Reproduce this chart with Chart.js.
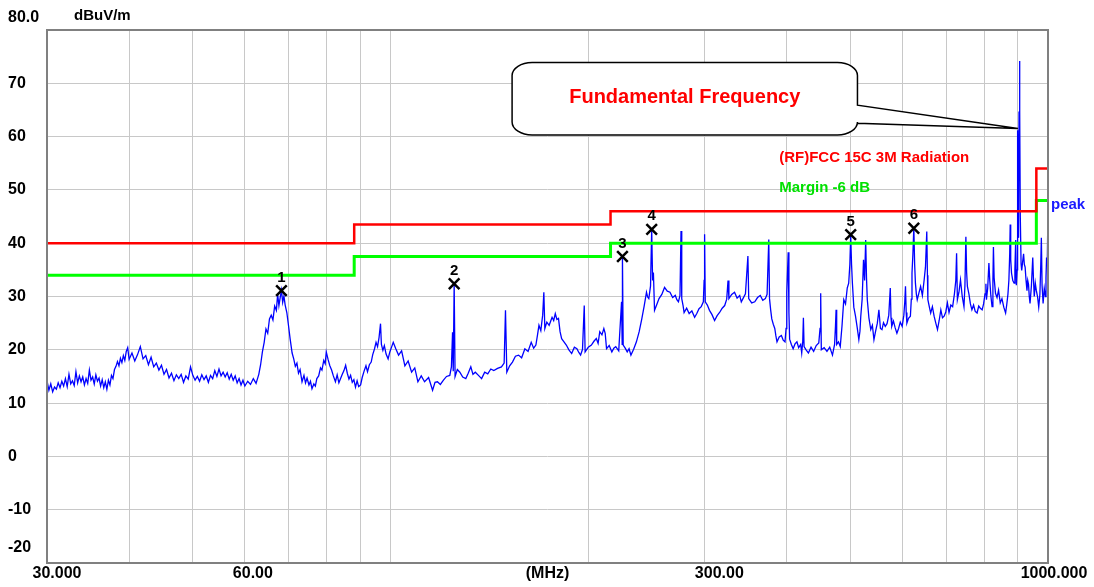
<!DOCTYPE html>
<html>
<head>
<meta charset="utf-8">
<script src="https://cdn.jsdelivr.net/npm/chart.js@4.4.1/dist/chart.umd.min.js"></script>
<style>
  html, body { margin: 0; padding: 0; background: #fff; }
  #wrap { width: 1094px; height: 587px; }
</style>
</head>
<body>
<div id="wrap"><canvas id="chart" width="1094" height="587"></canvas></div>
<script>
// measured trace: [MHz, dBuV/m]
const trace = [
  [30.0,14.2],[30.2,12.4],[30.4,13.6],[30.6,12.1],[30.8,13.0],[31.0,12.6],[31.2,13.8],[31.4,12.9],[31.6,14.1],[31.8,13.2],
  [32.0,14.6],[32.2,13.1],[32.4,15.4],[32.6,13.6],[32.8,14.2],[33.0,13.3],[33.2,15.9],[33.4,13.8],[33.6,15.1],[33.8,14.0],
  [34.0,14.9],[34.2,13.4],[34.4,14.6],[34.6,13.7],[34.8,16.2],[35.0,14.3],[35.2,14.9],[35.4,13.6],[35.6,15.3],[35.8,14.1],
  [36.0,14.7],[36.2,13.2],[36.4,14.4],[36.6,12.9],[36.8,14.0],[37.0,12.6],[37.2,14.3],[37.4,13.4],[37.6,15.2],[37.8,14.6],
  [38.0,16.3],[38.2,16.9],[38.4,17.8],[38.6,17.0],[38.8,18.4],[39.0,17.6],[39.2,18.9],[39.4,18.0],[39.6,19.7],[39.8,20.4],
  [40.0,18.2],[40.4,19.4],[40.8,17.9],[41.2,19.1],[41.6,20.6],[42.0,18.3],[42.4,18.9],[42.8,17.2],[43.2,18.6],[43.6,16.8],
  [44.0,17.5],[44.4,16.2],[44.8,17.1],[45.2,15.4],[45.6,16.3],[46.0,14.7],[46.4,15.6],[46.8,14.2],[47.2,15.3],[47.6,14.6],
  [48.0,15.4],[48.4,13.9],[48.8,15.1],[49.2,14.5],[49.6,16.8],[50.0,15.2],[50.4,14.3],[50.8,15.0],[51.2,14.1],[51.6,15.3],
  [52.0,14.4],[52.4,15.1],[52.8,13.9],[53.2,15.2],[53.6,14.6],[54.0,16.1],[54.4,15.0],[54.8,16.4],[55.2,15.1],[55.6,15.8],
  [56.0,14.9],[56.4,15.7],[56.8,14.5],[57.2,15.4],[57.6,14.3],[58.0,15.1],[58.4,13.8],[58.8,14.6],[59.2,13.4],[59.6,14.3],
  [60.0,13.2],[60.6,14.1],[61.2,13.5],[61.8,14.6],[62.4,13.7],[63.0,15.4],[63.4,17.2],[63.8,19.6],[64.2,21.4],[64.6,23.9],
  [65.0,23.1],[65.4,25.8],[65.8,26.5],[66.2,25.6],[66.6,28.2],[67.0,27.4],[67.3,30.4],[67.6,28.3],[67.9,29.8],[68.2,31.2],
  [68.5,28.9],[68.8,30.1],[69.1,28.4],[69.5,27.0],[69.9,24.6],[70.3,22.1],[70.8,19.4],[71.2,18.3],[71.6,16.9],[72.0,17.5],
  [72.4,15.6],[72.8,16.3],[73.3,14.0],[73.8,15.2],[74.2,13.8],[74.6,14.7],[75.1,13.4],[75.5,14.1],[75.9,12.7],[76.4,13.6],
  [76.8,13.2],[77.2,14.6],[77.7,15.1],[78.2,16.6],[78.6,16.2],[79.1,18.0],[79.5,17.4],[79.8,19.6],[80.3,18.2],[80.8,17.0],
  [81.3,16.2],[81.8,15.1],[82.4,14.0],[82.9,15.3],[83.4,13.8],[83.9,14.6],[84.4,15.4],[84.9,16.1],[85.4,17.1],[85.9,15.6],
  [86.4,14.5],[86.9,15.2],[87.4,13.9],[87.9,14.4],[88.4,13.0],[88.9,14.2],[89.4,13.1],[90.0,13.4],[90.5,14.8],[91.1,16.0],
  [91.7,17.0],[92.2,15.9],[92.8,17.2],[93.4,17.7],[93.9,19.1],[94.5,20.2],[95.0,21.4],[95.5,20.6],[96.0,22.3],[96.5,24.9],
  [96.8,21.0],[97.3,19.9],[97.8,20.8],[98.4,19.2],[99.1,18.3],[99.7,19.6],[100.3,20.5],[100.9,21.4],
  [101.8,20.2],[102.8,19.0],[103.9,19.8],[105.1,17.0],[106.3,17.9],[107.6,15.8],[108.8,16.6],[110.0,14.0],[111.3,15.1],[112.6,14.0],
  [114.2,14.8],[115.8,12.4],[116.8,13.9],[117.8,14.0],[119.0,13.5],[120.3,14.3],[121.6,15.0],[123.0,15.2],[123.7,16.8],[124.2,23.3],
  [124.5,16.0],[124.9,32.5],[125.3,15.0],[126.3,16.3],[127.4,15.8],[128.7,14.9],[130.1,14.6],[131.2,15.6],[132.4,16.8],[133.4,15.4],
  [134.5,15.8],[136.0,15.2],[137.5,14.6],[139.0,15.8],[140.5,15.5],[142.0,16.4],[143.5,16.1],[145.4,16.5],[147.4,16.8],[148.8,17.5],
  [149.5,27.4],[150.2,15.8],[151.7,17.0],[153.2,17.7],[154.8,18.8],[156.5,19.0],[158.2,18.5],[160.0,20.2],[161.8,19.7],[163.6,21.4],
  [165.0,20.3],[166.3,20.9],[167.3,22.9],[168.1,24.6],[169.2,23.6],[170.3,26.5],[171.0,30.8],[171.6,24.0],[172.8,25.2],[174.2,24.6],
  [176.0,26.1],[177.0,25.5],[178.0,26.8],[179.0,25.7],[180.0,25.9],[181.0,23.4],[182.0,22.1],[183.5,21.5],[185.0,20.9],[186.7,20.0],
  [188.5,19.3],[190.3,20.5],[192.0,20.2],[193.3,19.5],[194.5,19.0],[195.8,20.1],[197.0,28.3],[197.6,19.6],[199.8,20.5],[202.0,20.9],
  [203.8,21.6],[205.5,22.1],[206.8,21.2],[208.0,23.4],[209.6,22.8],[211.0,24.0],[212.0,23.1],[213.0,20.2],[215.0,20.8],[217.0,19.6],
  [218.5,20.3],[220.0,20.6],[222.3,19.8],[224.5,29.0],[225.0,21.0],[225.2,37.6],[225.8,20.9],[227.4,20.3],[229.0,19.6],[230.5,20.2],
  [232.0,19.0],[234.2,20.1],[236.5,21.5],[238.8,23.4],[241.0,25.8],[243.0,28.2],[245.0,30.8],[246.0,29.9],[247.0,29.6],[248.5,32.0],
  [249.5,42.6],[250.3,33.0],[251.0,34.5],[252.0,27.4],[254.0,28.5],[256.0,29.6],[258.5,30.4],[261.0,31.7],[263.5,31.0],[266.0,30.8],
  [268.5,29.8],[271.0,30.2],[272.5,29.4],[274.0,29.0],[275.5,30.2],[276.5,42.3],[277.2,29.6],[278.5,28.3],[279.5,27.0],[282.0,27.8],
  [284.5,26.8],[287.2,27.3],[290.0,26.1],[292.2,26.8],[294.5,27.7],[296.8,28.1],[299.0,29.0],[299.8,33.0],[300.3,41.7],[301.0,29.0],
  [303.2,28.4],[305.5,27.4],[308.2,26.6],[311.0,25.5],[313.8,26.4],[316.5,27.0],[319.4,27.8],[322.2,28.3],[324.5,29.5],[326.0,33.0],
  [327.0,29.6],[330.2,30.4],[333.5,30.8],[336.5,29.7],[339.6,30.2],[341.5,29.0],[343.5,29.6],[346.5,30.5],[349.5,37.6],[350.5,29.6],
  [354.2,28.8],[358.0,29.0],[361.5,29.8],[365.0,30.2],[368.2,29.3],[371.5,29.6],[373.8,30.4],[376.0,40.7],[377.0,29.6],[378.5,27.5],
  [380.0,25.8],[382.0,24.8],[384.0,24.0],[385.5,22.6],[387.0,21.5],[390.0,22.4],[393.0,22.7],[395.5,21.8],[398.0,21.5],[399.5,24.0],
  [400.5,30.8],[402.5,38.3],[403.5,27.0],[404.5,22.0],[407.0,21.0],[409.5,20.2],[412.2,21.1],[415.0,21.5],
  [417.5,20.4],[420.5,21.0],[422.0,19.4],[423.5,21.5],[424.5,26.0],[425.5,20.6],[428.5,20.0],[432.0,19.4],[436.0,20.5],[440.0,19.7],
  [444.0,20.8],[448.0,21.3],[450.0,24.0],[451.0,30.6],[452.0,20.0],[456.5,20.4],[461.0,19.7],[465.5,20.5],[470.0,19.0],[473.5,21.0],
  [475.0,24.5],[476.0,27.5],[477.0,21.0],[480.0,21.5],[483.0,20.6],[486.0,24.5],[489.0,29.4],[492.0,28.6],[495.0,31.6],[497.5,32.5],
  [499.5,36.0],[501.0,41.5],[502.5,36.0],[504.0,32.5],[506.5,28.0],[509.5,26.3],[512.5,24.2],[515.5,21.9],[517.5,23.5],[519.0,26.3],
  [521.5,29.5],[524.0,36.9],[526.0,33.0],[528.0,40.6],[529.5,33.5],[531.0,29.4],[534.0,26.0],[537.5,23.8],[540.5,24.6],[543.5,21.9],
  [546.5,23.4],[550.0,25.0],[553.0,27.5],[556.0,24.0],[559.0,23.8],[562.0,25.1],[565.5,24.4],[569.0,24.9],[572.5,26.5],[575.5,31.6],
  [577.0,26.0],[578.5,24.4],[582.0,25.4],[585.5,24.1],[589.0,23.1],[592.5,24.0],[596.0,25.2],[600.0,24.4],[603.5,26.5],[605.5,29.0],
  [607.0,31.9],[608.5,27.0],[610.0,25.0],[613.5,25.9],[617.5,26.3],[619.5,29.5],[621.0,34.4],[623.0,38.0],[625.0,43.0],[626.8,36.0],
  [628.5,32.5],[630.5,30.5],[632.5,29.4],[636.0,30.6],[640.0,31.9],[644.0,30.2],[648.0,33.1],[651.0,35.5],[654.0,42.2],[655.5,34.0],
  [656.5,29.4],[660.0,28.0],[663.0,26.9],[667.0,28.1],[671.0,26.3],[675.0,25.0],[679.0,23.8],[683.0,25.5],[687.0,27.5],[691.0,26.0],
  [695.0,26.3],[699.0,27.1],[703.0,28.8],[707.0,27.0],[711.5,28.4],[716.0,28.1],[720.5,30.5],[724.0,33.0],[726.0,38.1],[728.0,29.4],
  [732.0,30.8],[736.0,33.1],[740.5,30.0],[745.0,28.1],[747.5,32.0],[750.0,41.2],[752.0,34.5],[754.0,31.9],[758.0,30.5],[762.0,28.6],
  [766.0,27.5],[770.5,28.4],[775.0,27.2],[780.0,26.9],[784.5,28.2],[789.0,27.8],[794.0,27.5],[798.0,28.6],[802.0,30.5],[804.5,32.4],
  [806.0,29.4],[809.5,31.5],[813.0,36.3],[815.5,33.0],[818.5,30.2],[822.0,28.1],[824.5,33.0],[826.0,39.3],[828.0,33.5],[832.0,30.6],
  [836.5,29.8],[841.0,31.2],[846.0,28.8],[851.0,29.6],[856.5,28.0],[862.0,26.9],[865.5,28.5],[869.0,30.4],[872.0,33.1],[874.5,38.0],
  [876.0,43.5],[877.5,37.0],[880.0,34.4],[884.0,33.0],[888.0,32.5],[890.5,35.0],[893.0,40.6],[895.0,32.1],[897.5,35.0],[899.0,61.2],
  [900.5,44.0],[902.0,41.0],[903.5,64.6],[905.0,74.2],[906.2,64.6],[907.5,45.0],[910.0,36.1],[912.0,34.9],[915.0,36.5],[918.0,38.0],
  [920.5,36.0],[923.0,35.5],[926.0,33.0],[929.0,31.1],[931.5,33.0],[934.0,32.3],[936.5,30.0],[939.0,28.7],[943.5,32.0],[948.0,37.3],
  [950.5,33.0],[953.0,30.0],[956.5,32.5],[960.0,31.1],[964.0,30.0],[968.0,28.0],[972.0,30.4],[975.0,36.0],[977.0,41.0],[979.5,32.0],
  [983.0,28.7],[987.0,31.5],[991.0,30.0],[993.0,33.5],[995.0,37.3],[997.5,36.0],[1000.0,47.3]
];

const limitFreq = [30, 88, 88, 216, 216, 960, 960, 1000];
const limitLevel = [40, 40, 43.5, 43.5, 46, 46, 54, 54];
const marginLevel = [34, 34, 37.5, 37.5, 40, 40, 48, 48];

const markerFreq = [68.2, 124.9, 225.2, 249.5, 501, 625];
const markerLevel = [31.1, 32.4, 37.5, 42.6, 41.6, 42.8];
const markerNames = ["1", "2", "3", "4", "5", "6"];

const xGrid = [30, 40, 50, 60, 70, 80, 90, 100, 200, 300, 400, 500, 600, 700, 800, 900, 1000];
const xTickValues = [30, 60, 300, 1000];
const xTickLabels = ["30.000", "60.00", "300.00", "1000.000"];
const yTickValues = [80, 70, 60, 50, 40, 30, 20, 10, 0, -10, -20];
const yTickLabels = ["80.0", "70", "60", "50", "40", "30", "20", "10", "0", "-10", "-20"];

// layout bits (kept apart from the data)
const xLabelShift = [10, 8, 15, 6];
const yLabelShift = { 80: -12, "-20": -15 };
const callout = { f0: 153, f1: 513, top: 73.9, bottom: 60.3, pin1: 65.9, pin2: 62.5, tipF: 900, tipL: 61.5 };
const FONT = '"Liberation Sans", Arial, sans-serif';

const pts = (xs, ys) => xs.map((x, i) => ({ x, y: ys[i] }));

const overlay = {
  id: "overlay",
  afterDatasetsDraw(chart) {
    const { ctx, chartArea: a, scales: { x, y } } = chart;
    ctx.save();

    // frame
    ctx.strokeStyle = "#808080";
    ctx.lineWidth = 2;
    ctx.strokeRect(a.left, a.top, a.right - a.left, a.bottom - a.top);

    // axis labels
    ctx.fillStyle = "#000";
    ctx.textBaseline = "middle";
    ctx.font = "bold 16px " + FONT;
    ctx.textAlign = "left";
    yTickValues.forEach((v, i) => {
      ctx.fillText(yTickLabels[i], 8, y.getPixelForValue(v) + (yLabelShift[v] || 0));
    });
    ctx.textAlign = "center";
    xTickValues.forEach((v, i) => {
      ctx.fillText(xTickLabels[i], x.getPixelForValue(v) + xLabelShift[i], a.bottom + 11);
    });
    ctx.fillText("(MHz)", (a.left + a.right) / 2, a.bottom + 11);
    ctx.font = "bold 15px " + FONT;
    ctx.textAlign = "left";
    ctx.fillText("dBuV/m", a.left + 27, a.top - 14);

    // marker numbers
    ctx.textAlign = "center";
    ctx.font = "bold 15px " + FONT;
    markerFreq.forEach((f, i) => {
      ctx.fillText(markerNames[i], x.getPixelForValue(f), y.getPixelForValue(markerLevel[i]) - 13);
    });

    // callout
    const L = x.getPixelForValue(callout.f0), R = x.getPixelForValue(callout.f1);
    const T = y.getPixelForValue(callout.top), B = y.getPixelForValue(callout.bottom);
    const rx = 20, ry = 13;
    ctx.beginPath();
    ctx.moveTo(L + rx, T);
    ctx.lineTo(R - rx, T);
    ctx.ellipse(R - rx, T + ry, rx, ry, 0, -Math.PI / 2, 0);
    ctx.lineTo(R, y.getPixelForValue(callout.pin1));
    ctx.lineTo(x.getPixelForValue(callout.tipF), y.getPixelForValue(callout.tipL));
    ctx.lineTo(R, y.getPixelForValue(callout.pin2));
    ctx.lineTo(R, B - ry);
    ctx.ellipse(R - rx, B - ry, rx, ry, 0, 0, Math.PI / 2);
    ctx.lineTo(L + rx, B);
    ctx.ellipse(L + rx, B - ry, rx, ry, 0, Math.PI / 2, Math.PI);
    ctx.lineTo(L, T + ry);
    ctx.ellipse(L + rx, T + ry, rx, ry, 0, Math.PI, Math.PI * 1.5);
    ctx.closePath();
    ctx.fillStyle = "#fff";
    ctx.fill();
    ctx.strokeStyle = "#000";
    ctx.lineWidth = 1.5;
    ctx.stroke();
    ctx.fillStyle = "#ff0000";
    ctx.font = "bold 20px " + FONT;
    ctx.textAlign = "center";
    ctx.fillText("Fundamental Frequency", (L + R) / 2, (T + B) / 2 - 1);

    // legend texts
    ctx.textAlign = "left";
    ctx.font = "bold 15px " + FONT;
    ctx.fillStyle = "#ff0000";
    ctx.fillText("(RF)FCC 15C 3M Radiation", x.getPixelForValue(390), y.getPixelForValue(56.1));
    ctx.fillStyle = "#00e000";
    ctx.fillText("Margin -6 dB", x.getPixelForValue(390), y.getPixelForValue(50.3));
    ctx.fillStyle = "#1a1aff";
    ctx.fillText("peak", a.right + 3, y.getPixelForValue(47.1));

    ctx.restore();
  }
};

new Chart(document.getElementById("chart"), {
  type: "line",
  data: {
    datasets: [
      {
        label: "markers",
        data: pts(markerFreq, markerLevel),
        showLine: false,
        pointStyle: "crossRot",
        pointRadius: 7.5,
        pointBorderWidth: 2.5,
        pointBorderColor: "#000",
        order: 0,
      },
      {
        label: "(RF)FCC 15C 3M Radiation",
        data: pts(limitFreq, limitLevel),
        borderColor: "#ff0000",
        borderWidth: 2.5,
        pointRadius: 0,
        order: 1,
      },
      {
        label: "Margin -6 dB",
        data: pts(limitFreq, marginLevel),
        borderColor: "#00ff00",
        borderWidth: 3,
        pointRadius: 0,
        order: 2,
      },
      {
        label: "peak",
        data: trace.map(([f, v]) => ({ x: f, y: v })),
        borderColor: "#0000ff",
        borderWidth: 1.3,
        pointRadius: 0,
        tension: 0,
        order: 3,
      },
    ],
  },
  options: {
    responsive: false,
    animation: false,
    layout: { padding: { left: 47, right: 46, top: 30, bottom: 24 } },
    plugins: { legend: { display: false }, tooltip: { enabled: false } },
    scales: {
      x: {
        type: "logarithmic",
        min: 30,
        max: 1000,
        afterBuildTicks: (scale) => { scale.ticks = xGrid.map(v => ({ value: v })); },
        ticks: { display: false },
        grid: { color: "#c8c8c8", lineWidth: 1, drawTicks: false },
        border: { display: false },
      },
      y: {
        type: "linear",
        min: -20,
        max: 80,
        ticks: { display: false, stepSize: 10 },
        grid: { color: "#c8c8c8", lineWidth: 1, drawTicks: false },
        border: { display: false },
      },
    },
  },
  plugins: [overlay],
});
</script>
</body>
</html>
